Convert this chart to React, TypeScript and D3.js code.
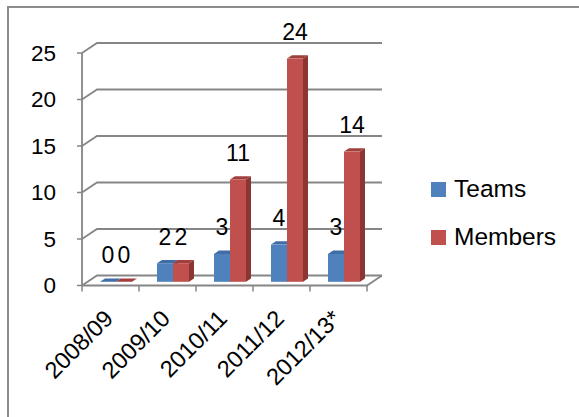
import React from "react";
import * as d3 from "d3";

const categories = ["2008/09", "2009/10", "2010/11", "2011/12", "2012/13*"];
const teams = [0, 2, 3, 4, 3];
const members = [0, 2, 11, 24, 14];
const seriesNames = ["Teams", "Members"];
const yTicks = [0, 5, 10, 15, 20, 25];

const colors = {
  Teams: { front: "#4F81BD", side: "#3A6596", top: "#3F6DA6" },
  Members: { front: "#C0504D", side: "#8C3633", top: "#A13F3C" },
} as Record<string, { front: string; side: string; top: string }>;

const FONT = "'Liberation Sans', Arial, sans-serif";

export default function App() {
  const W = 579, H = 417;
  const x0 = 82, x1 = 367;
  const DX = 15, DY = -10; // depth of back wall
  const x = d3.scaleBand<string>().domain(categories).range([x0, x1]).padding(0);
  const y = d3.scaleLinear().domain([0, 25]).range([285.5, 53]);
  const sub = d3.scaleBand<string>().domain(seriesNames).range([12.5, 44.5]).padding(0);
  const bw = sub.bandwidth();
  const fdx = 5.5, fdy = -3.7; // front face depth offset
  const bdx = 5, bdy = -3.3; // bar depth
  const grid = "#868686";

  const data = [
    { name: "Teams", values: teams },
    { name: "Members", values: members },
  ];

  return (
    <svg width={W} height={H} style={{ position: "absolute", left: 0, top: 0, background: "#fff" }}>
      <path d={`M8,${H} V7 H${W}`} fill="none" stroke="#8c8c8c" strokeWidth={2} />
      {/* gridlines on back wall */}
      {yTicks.map((t) => (
        <g key={t}>
          <path
            d={`M${x0},${y(t)} L${x0 + DX},${y(t) + DY} H${x1 + DX}`}
            fill="none"
            stroke={grid}
            strokeWidth={1.8}
          />
          <line x1={x0 - 5} x2={x0} y1={y(t)} y2={y(t)} stroke={grid} strokeWidth={1.5} />
          <text
            x={x0 - 26}
            y={y(t)}
            textAnchor="end"
            dominantBaseline="central"
            fontFamily={FONT}
            fontSize={22.5}
            fill="#000"
          >
            {t}
          </text>
        </g>
      ))}
      {/* front axis + floor */}
      <line x1={x0} x2={x0} y1={y(25)} y2={y(0)} stroke={grid} strokeWidth={1.8} />
      <path
        d={`M${x0},${y(0)} H${x1} L${x1 + DX},${y(0) + DY}`}
        fill="none"
        stroke={grid}
        strokeWidth={1.8}
      />
      {categories.concat([""]).map((c, i) => {
        const xx = x0 + i * x.bandwidth();
        return <line key={i} x1={xx} x2={xx} y1={y(0)} y2={y(0) + 6} stroke={grid} strokeWidth={1.5} />;
      })}
      {/* bars */}
      {categories.map((c, i) => (
        <g key={c}>
          {data.map((s) => {
            const col = colors[s.name];
            const v = s.values[i];
            const fx = (x(c) as number) + (sub(s.name) as number) + fdx;
            const fyTop = y(v) + fdy;
            const fyBot = y(0) + fdy;
            const h = fyBot - fyTop;
            return (
              <g key={s.name}>
                {h > 0 && (
                  <path
                    d={`M${fx + bw},${fyTop} L${fx + bw + bdx},${fyTop + bdy} V${fyBot + bdy} L${fx + bw},${fyBot} Z`}
                    fill={col.side}
                  />
                )}
                <path
                  d={`M${fx},${fyTop} L${fx + bdx},${fyTop + bdy} H${fx + bw + bdx} L${fx + bw},${fyTop} Z`}
                  fill={col.top}
                />
                {h > 0 && <rect x={fx} y={fyTop} width={bw} height={h} fill={col.front} />}
                <text
                  x={fx + bw / 2}
                  y={fyTop - 26.5}
                  textAnchor="middle"
                  dominantBaseline="central"
                  fontFamily={FONT}
                  fontSize={23}
                  fill="#000"
                >
                  {v}
                </text>
              </g>
            );
          })}
        </g>
      ))}
      {/* x labels */}
      {categories.map((c) => {
        const cx = (x(c) as number) + x.bandwidth() / 2 + 4;
        const cy = 320;
        return (
          <text
            key={c}
            transform={`translate(${cx},${cy}) rotate(-45)`}
            textAnchor="end"
            fontFamily={FONT}
            fontSize={23.5}
            fill="#000"
          >
            {c}
          </text>
        );
      })}
      {/* legend */}
      {seriesNames.map((n, i) => (
        <g key={n} transform={`translate(431,${182 + i * 48})`}>
          <rect x={0} y={0} width={15} height={15} fill={colors[n].front} />
          <text x={23} y={15} fontFamily={FONT} fontSize={24.5} fill="#000">
            {n}
          </text>
        </g>
      ))}
    </svg>
  );
}
